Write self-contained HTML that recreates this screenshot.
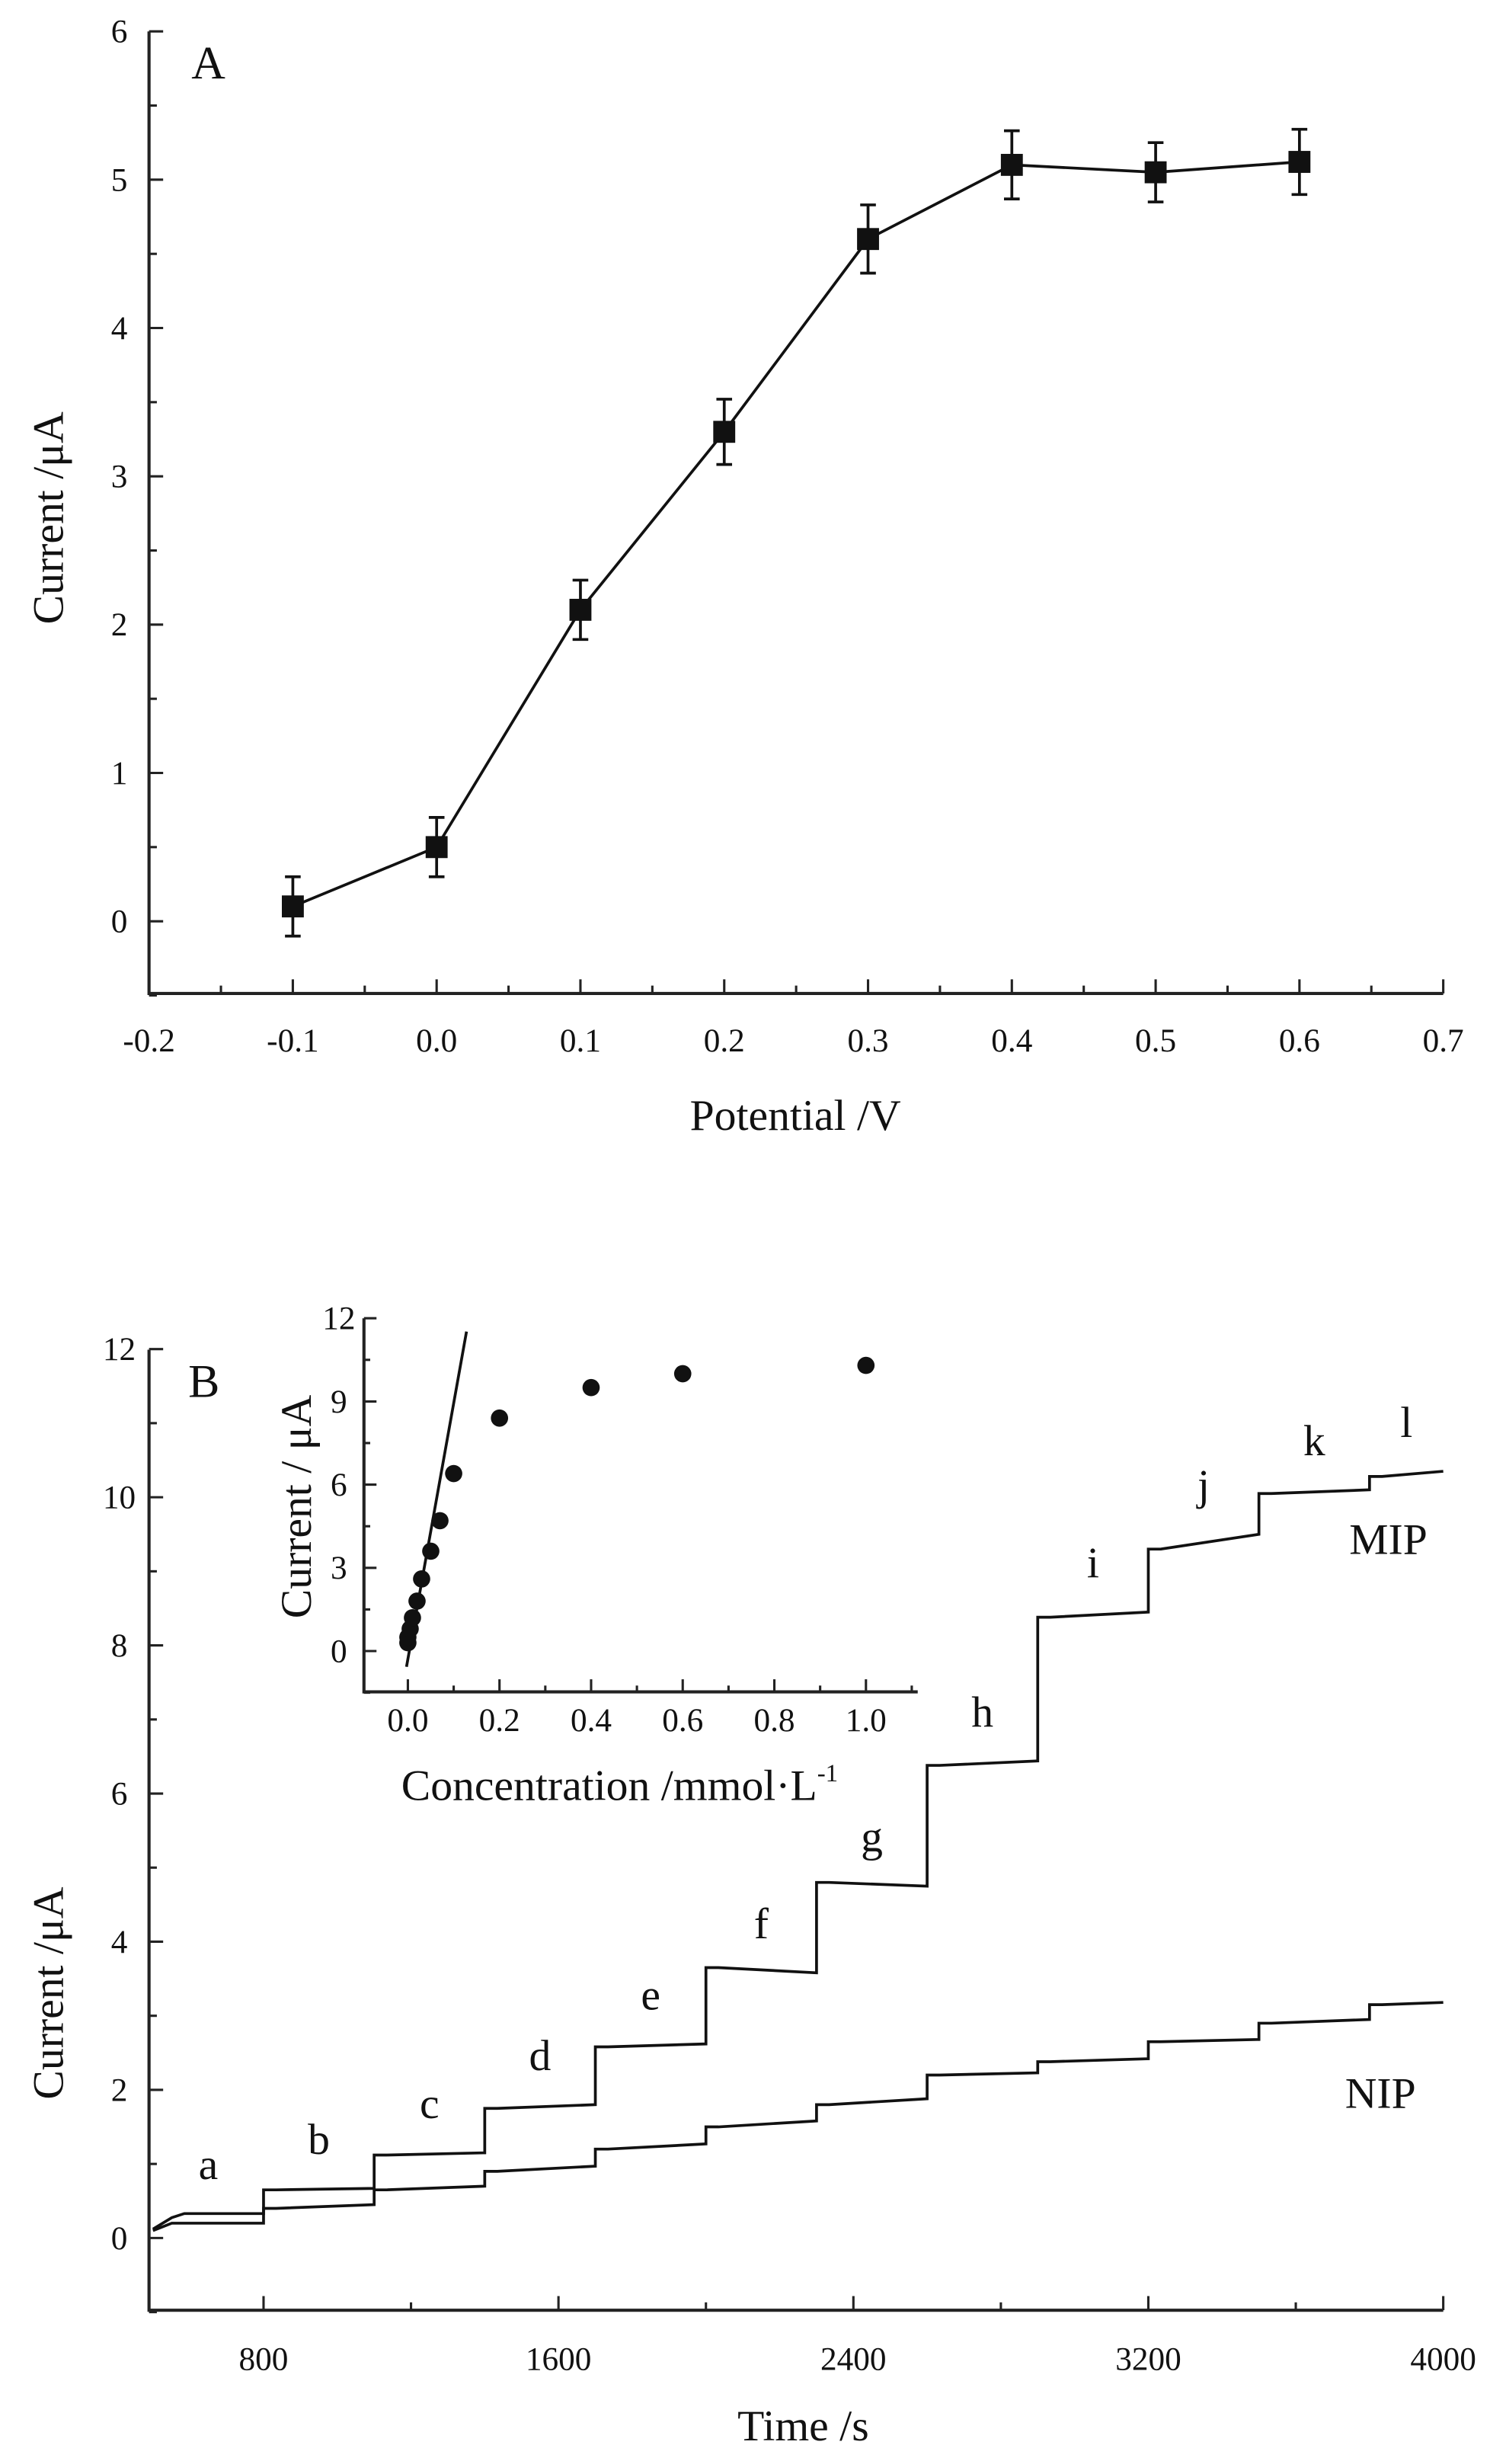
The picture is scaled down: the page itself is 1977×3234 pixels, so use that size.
<!DOCTYPE html>
<html><head><meta charset="utf-8"><style>
html,body{margin:0;padding:0;background:#fff}
svg{display:block}
text{font-family:"Liberation Serif",serif;fill:#111}
</style></head><body>
<svg id="fig" width="1977" height="3234" viewBox="0 0 960 1570" preserveAspectRatio="none" xmlns="http://www.w3.org/2000/svg">
<g id="pa"></g>
<g id="pb"></g>
<g id="pi"></g>
</svg>
<script>
// Panel A data
const potentials=[-0.1,0.0,0.1,0.2,0.3,0.4,0.5,0.6];
const currentsA=[0.1,0.5,2.1,3.3,4.6,5.1,5.05,5.12];
const errorsA=[0.2,0.2,0.2,0.22,0.23,0.23,0.2,0.22];
const xTicksA=["-0.2","-0.1","0.0","0.1","0.2","0.3","0.4","0.5","0.6","0.7"];
const yTicksA=["0","1","2","3","4","5","6"];
// Panel B data
const stepTimes=[500,800,1100,1400,1700,2000,2300,2600,2900,3200,3500,3800,4000];
const mipStart=[0.12,0.65,1.12,1.75,2.58,3.65,4.8,6.38,8.38,9.3,10.05,10.28];
const mipEnd=[0.33,0.67,1.15,1.8,2.62,3.58,4.75,6.44,8.45,9.5,10.1,10.35];
const nipStart=[0.1,0.4,0.65,0.9,1.2,1.5,1.8,2.2,2.38,2.65,2.9,3.15];
const nipEnd=[0.2,0.45,0.7,0.97,1.27,1.58,1.88,2.23,2.42,2.68,2.95,3.18];
const stepLetters=["a","b","c","d","e","f","g","h","i","j","k","l"];
const xTicksB=["800","1600","2400","3200","4000"];
const yTicksB=["0","2","4","6","8","10","12"];
// Inset data
const conc=[0.0,0.0,0.005,0.01,0.02,0.03,0.05,0.07,0.1,0.2,0.4,0.6,1.0];
const currI=[0.3,0.5,0.8,1.2,1.8,2.6,3.6,4.7,6.4,8.4,9.5,10.0,10.3];
const fitSlope=[90];
const xTicksI=["0.0","0.2","0.4","0.6","0.8","1.0"];
const yTicksI=["0","3","6","9","12"];

const NS="http://www.w3.org/2000/svg";
function mk(parent,tag,attrs,txt){const e=document.createElementNS(NS,tag);for(const k in attrs)e.setAttribute(k,attrs[k]);if(txt!==undefined)e.textContent=txt;parent.appendChild(e);return e;}

// ---------- Panel A ----------
(function(){
const g=document.getElementById('pa');
const L=95,R=920,T=20,B=633;
const xA=v=>L+(v+0.2)/0.9*(R-L);
const yA=v=>587-v*94.5;
let e;
e=mk(g,'path',{d:`M${L},${T} V${B} H${R}`,fill:'none',stroke:'#222','stroke-width':2});

for(let i=0;i<=18;i++){const v=-0.2+i*0.05;const x=xA(v);mk(g,'line',{x1:x,x2:x,y1:B,y2:B-(i%2?5:9),stroke:'#222','stroke-width':1.5});}
xTicksA.forEach(t=>{e=mk(g,'text',{x:xA(parseFloat(t)),y:670,'text-anchor':'middle','font-size':21},t);
});
for(let i=-1;i<=12;i++){const v=i*0.5;const y=yA(v);mk(g,'line',{x1:L,x2:L+(i%2?5:9),y1:y,y2:y,stroke:'#222','stroke-width':1.5});}
yTicksA.forEach(t=>{e=mk(g,'text',{x:76,y:yA(parseFloat(t))+7,'text-anchor':'middle','font-size':21},t);
});
e=mk(g,'text',{x:507,y:720,'text-anchor':'middle','font-size':28},'Potential /V');

e=mk(g,'text',{x:0,y:0,'text-anchor':'middle','font-size':28,transform:`translate(40,330) rotate(-90)`},'Current /μA');

e=mk(g,'text',{x:122,y:50,'font-size':30},'A');

const pts=potentials.map((p,i)=>xA(p)+','+yA(currentsA[i])).join(' ');
e=mk(g,'polyline',{points:pts,fill:'none',stroke:'#111','stroke-width':1.8});

potentials.forEach((p,i)=>{const x=xA(p),y=yA(currentsA[i]),d=errorsA[i]*94.5;
e=mk(g,'path',{d:`M${x},${y-d}V${y+d}M${x-5},${y-d}H${x+5}M${x-5},${y+d}H${x+5}`,stroke:'#111','stroke-width':1.8,fill:'none'});

e=mk(g,'rect',{x:x-7,y:y-7,width:14,height:14,fill:'#111'});
});
})();

// ---------- Panel B ----------
(function(){
const g=document.getElementById('pb');
const L=95,R=920,T=860,B=1472;
const xB=t=>168+(t-800)*0.235;
const yB=v=>1426-v*47.2;
let e;
e=mk(g,'path',{d:`M${L},${T} V${B} H${R}`,fill:'none',stroke:'#222','stroke-width':2});

for(let t=800;t<=4000;t+=400){const x=xB(t);mk(g,'line',{x1:x,x2:x,y1:B,y2:B-((t%800)?5:9),stroke:'#222','stroke-width':1.5});}
xTicksB.forEach(t=>{e=mk(g,'text',{x:xB(parseFloat(t)),y:1510,'text-anchor':'middle','font-size':21},t);
});
for(let v=-1;v<=12;v++){const y=yB(v);mk(g,'line',{x1:L,x2:L+(v%2?5:9),y1:y,y2:y,stroke:'#222','stroke-width':1.5});}
yTicksB.forEach(t=>{e=mk(g,'text',{x:76,y:yB(parseFloat(t))+7,'text-anchor':'middle','font-size':21},t);
});
e=mk(g,'text',{x:512,y:1555,'text-anchor':'middle','font-size':28},'Time /s');

e=mk(g,'text',{x:0,y:0,'text-anchor':'middle','font-size':28,transform:`translate(40,1270) rotate(-90)`},'Current /μA');

e=mk(g,'text',{x:120,y:890,'font-size':30},'B');

function stepPath(s,en){let d='';for(let i=0;i<s.length;i++){const x0=xB(stepTimes[i]),x1=xB(stepTimes[i+1]);
if(i===0){d+=`M${x0},${yB(s[i])} L${x0+12},${yB((s[i]+en[i])/2+0.05)} L${x0+20},${yB(en[i])}`;}
else{d+=` L${x0},${yB(s[i])} L${x0+8},${yB(s[i])}`;}
d+=` L${x1},${yB(en[i])}`;}return d;}
e=mk(g,'path',{d:stepPath(mipStart,mipEnd),fill:'none',stroke:'#111','stroke-width':1.8});

e=mk(g,'path',{d:stepPath(nipStart,nipEnd),fill:'none',stroke:'#111','stroke-width':1.8});

stepLetters.forEach((l,i)=>{const xm=(xB(stepTimes[i])+xB(stepTimes[i+1]))/2;
e=mk(g,'text',{x:xm,y:yB(mipEnd[i])-22,'text-anchor':'middle','font-size':28},l);
});
e=mk(g,'text',{x:885,y:990,'text-anchor':'middle','font-size':28},'MIP');

e=mk(g,'text',{x:880,y:1343,'text-anchor':'middle','font-size':28},'NIP');

})();

// ---------- Inset ----------
(function(){
const g=document.getElementById('pi');
const L=232,R=585,T=840,B=1078;
const xI=v=>260+v*292;
const yI=v=>1052-v*17.67;
let e;
e=mk(g,'path',{d:`M${L},${T} V${B} H${R}`,fill:'none',stroke:'#222','stroke-width':2});

for(let i=0;i<=11;i++){const v=i*0.1;const x=xI(v);mk(g,'line',{x1:x,x2:x,y1:B,y2:B-(i%2?4:8),stroke:'#222','stroke-width':1.5});}
xTicksI.forEach(t=>{e=mk(g,'text',{x:xI(parseFloat(t)),y:1103,'text-anchor':'middle','font-size':21},t);
});
for(let i=-1;i<=8;i++){const v=i*1.5;const y=yI(v);mk(g,'line',{x1:L,x2:L+(i%2?4:8),y1:y,y2:y,stroke:'#222','stroke-width':1.5});}
yTicksI.forEach(t=>{e=mk(g,'text',{x:216,y:yI(parseFloat(t))+7,'text-anchor':'middle','font-size':21},t);
});
e=mk(g,'text',{x:395,y:1147,'text-anchor':'middle','font-size':28},'Concentration /mmol·L');

const sup=mk(e,'tspan',{dy:-12,'font-size':16},'-1');


e=mk(g,'text',{x:0,y:0,'text-anchor':'middle','font-size':28,transform:`translate(198,960) rotate(-90)`},'Current / μA');

const x0=-0.003,x1=0.128;
e=mk(g,'line',{x1:xI(x0),y1:yI(x0*fitSlope[0]-0.3),x2:xI(x1),y2:yI(x1*fitSlope[0]),stroke:'#111','stroke-width':1.8});

conc.forEach((c,i)=>{e=mk(g,'circle',{cx:xI(c),cy:yI(currI[i]),r:5.5,fill:'#111'});
});
})();
</script>
</body></html>
